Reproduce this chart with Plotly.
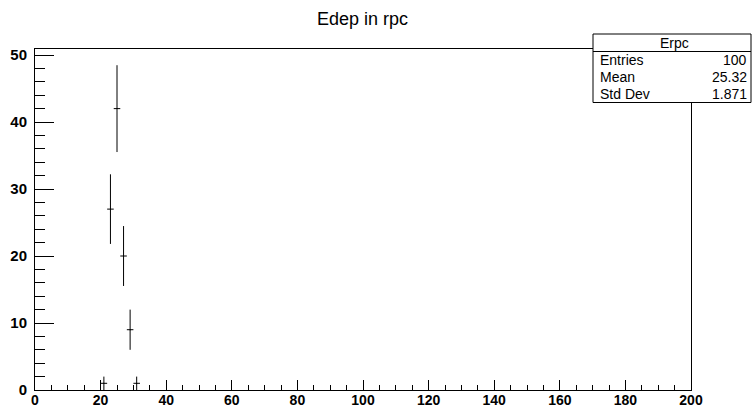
import numpy as np
import plotly.graph_objects as go

# Histogram "Erpc": 100 bins over [0, 200], only non-empty bins listed
bin_centers = [21, 23, 25, 27, 29, 31]
bin_counts = [1, 27, 42, 20, 9, 1]
bin_half_width = 1.0

x_tick_vals = [0, 20, 40, 60, 80, 100, 120, 140, 160, 180, 200]
y_tick_vals = [0, 10, 20, 30, 40, 50]

stats_title = "Erpc"
stats_labels = ["Entries", "Mean", "Std Dev"]
stats_values = ["100", "25.32", "1.871"]
hist_title = "Edep in rpc"

W, H = 752, 409
L, R, T, B = 35, 61, 49, 19
pw, ph = W - L - R, H - T - B


def px(x):
    return (x - L) / pw


def py(y):
    return (H - B - y) / ph


errors = np.sqrt(bin_counts)

fig = go.Figure()
fig.add_trace(go.Scatter(
    x=bin_centers, y=bin_counts, mode="markers",
    marker=dict(size=1, color="black"),
    error_y=dict(type="data", array=errors, visible=True, width=0, thickness=1, color="black"),
    error_x=dict(type="constant", value=bin_half_width, visible=True, width=0, thickness=1, color="black"),
    showlegend=False, hoverinfo="x+y",
))

x_tick_font = dict(family="Liberation Sans, Arial, sans-serif", size=14, color="black")
y_tick_font = dict(family="Liberation Sans, Arial, sans-serif", size=15, color="black")

fig.update_layout(
    width=W, height=H,
    margin=dict(l=L, r=R, t=T, b=B, pad=0),
    paper_bgcolor="white", plot_bgcolor="white",
    xaxis=dict(
        range=[0, 200], showgrid=False, zeroline=False, automargin=False,
        showline=True, linecolor="black", linewidth=1, mirror=True,
        ticks="inside", ticklen=10, tickcolor="black", tickwidth=1,
        tickmode="array", tickvals=x_tick_vals,
        ticktext=[f"<b>{v}</b>" for v in x_tick_vals],
        tickfont=x_tick_font, ticklabelstandoff=-3,
        minor=dict(ticks="inside", ticklen=5, dtick=5, tick0=0, tickcolor="black", showgrid=False),
    ),
    yaxis=dict(
        range=[0, 50.9], showgrid=False, zeroline=False, automargin=False,
        showline=True, linecolor="black", linewidth=1, mirror=True,
        ticks="inside", ticklen=19, tickcolor="black", tickwidth=1,
        tickmode="array", tickvals=y_tick_vals,
        ticktext=[f"<b>{v}</b>" for v in y_tick_vals],
        tickfont=y_tick_font, ticklabelstandoff=4,
        minor=dict(ticks="inside", ticklen=10, dtick=2, tick0=0, tickcolor="black", showgrid=False),
    ),
)

# Title
fig.add_annotation(
    text=hist_title, xref="paper", yref="paper",
    x=px(362), y=py(19), xanchor="center", yanchor="middle",
    showarrow=False, font=dict(family="Liberation Sans, Arial, sans-serif", size=18, color="black"),
)

# Statistics box
bx0, bx1 = px(593), px(751)
by_top, by_sep, by_bot = py(34), py(51.5), py(102.5)
fig.add_shape(type="rect", xref="paper", yref="paper", x0=bx0, x1=bx1, y0=by_bot, y1=by_top,
              line=dict(color="black", width=1), fillcolor="white", layer="above")
fig.add_shape(type="line", xref="paper", yref="paper", x0=bx0, x1=bx1, y0=by_sep, y1=by_sep,
              line=dict(color="black", width=1), layer="above")

stats_font = dict(family="Liberation Sans, Arial, sans-serif", size=14, color="black")
fig.add_annotation(text=stats_title, xref="paper", yref="paper", x=px(674), y=py(42.5),
                   xanchor="center", yanchor="middle", showarrow=False, font=stats_font)
row_y = [60, 77, 94]
for lab, val, yy in zip(stats_labels, stats_values, row_y):
    fig.add_annotation(text=lab, xref="paper", yref="paper", x=px(598), y=py(yy),
                       xanchor="left", yanchor="middle", showarrow=False, font=stats_font)
    fig.add_annotation(text=val, xref="paper", yref="paper", x=px(749), y=py(yy),
                       xanchor="right", yanchor="middle", showarrow=False, font=stats_font)

fig.write_html("out.html")
